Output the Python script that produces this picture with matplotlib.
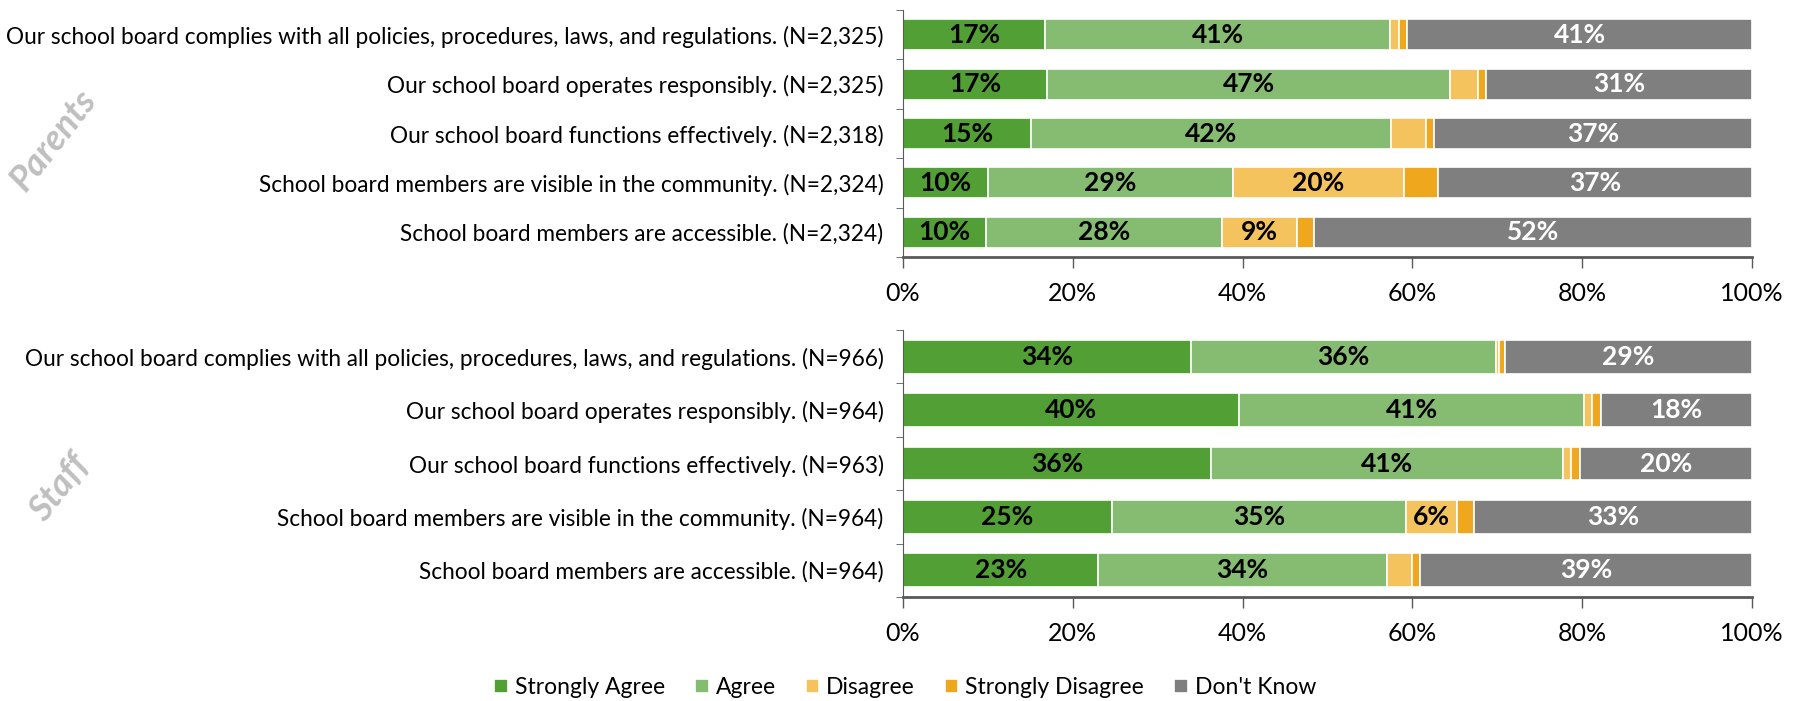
import matplotlib.pyplot as plt
import numpy as np

plt.rcParams['font.family'] = ['Lato', 'DejaVu Sans']

LEVELS = ['Strongly Agree', 'Agree', 'Disagree', 'Strongly Disagree', "Don't Know"]
COLORS = ['#52A035', '#86BC72', '#F4C35D', '#EFA81D', '#7F7F7F']

PARENT_ITEMS = [
    'Our school board complies with all policies, procedures, laws, and regulations. (N=2,325)',
    'Our school board operates responsibly. (N=2,325)',
    'Our school board functions effectively. (N=2,318)',
    'School board members are visible in the community. (N=2,324)',
    'School board members are accessible. (N=2,324)',
]
PARENT_SA = [16.7, 17.0, 15.1, 10.0, 9.8]
PARENT_AG = [40.7, 47.4, 42.4, 28.9, 27.8]
PARENT_DIS = [1.0, 3.3, 4.1, 20.1, 8.8]
PARENT_SD = [1.0, 1.0, 1.0, 4.0, 2.0]
PARENT_DK = [40.6, 31.3, 37.4, 37.0, 51.6]

STAFF_ITEMS = [
    'Our school board complies with all policies, procedures, laws, and regulations. (N=966)',
    'Our school board operates responsibly. (N=964)',
    'Our school board functions effectively. (N=963)',
    'School board members are visible in the community. (N=964)',
    'School board members are accessible. (N=964)',
]
STAFF_SA = [33.9, 39.6, 36.3, 24.6, 23.0]
STAFF_AG = [36.0, 40.6, 41.4, 34.7, 34.0]
STAFF_DIS = [0.3, 1.0, 1.0, 5.9, 3.0]
STAFF_SD = [0.7, 1.0, 1.0, 2.0, 0.9]
STAFF_DK = [29.1, 17.8, 20.3, 32.8, 39.1]

TXT = '#000000'
AXC = '#595959'


def draw_group(ax, items, series):
    y = np.arange(len(items))
    left = np.zeros(len(items))
    for vals, name, col in zip(series, LEVELS, COLORS):
        vals = np.array(vals, dtype=float)
        ax.barh(y, vals, left=left, height=0.63, color=col,
                edgecolor='white', linewidth=1.2, label=name)
        for yi, l, v in zip(y, left, vals):
            if v >= 5:
                ax.text(l + v / 2, yi, '%.0f%%' % v, ha='center', va='center',
                        fontsize=19, fontweight='bold',
                        color='white' if name == "Don't Know" else 'black')
        left += vals

    ax.set_xlim(0, 100)
    ax.set_ylim(len(items) - 0.5, -0.5)
    ax.set_yticks(y)
    ax.set_yticklabels(items, fontsize=16.3, color=TXT)
    ax.set_yticks(np.arange(len(items) + 1) - 0.5, minor=True)
    ax.tick_params(axis='y', which='major', length=0, pad=14)
    ax.tick_params(axis='y', which='minor', length=5, color=AXC)
    ax.set_xticks(np.arange(0, 101, 20))
    ax.set_xticklabels(['%d%%' % t for t in range(0, 101, 20)], fontsize=18, color=TXT)
    ax.tick_params(axis='x', length=8, width=1, color=AXC, pad=10)
    for s in ['top', 'right']:
        ax.spines[s].set_visible(False)
    ax.spines['left'].set_color(AXC)
    ax.spines['bottom'].set_color(AXC)
    ax.spines['bottom'].set_linewidth(2)


fig = plt.figure(figsize=(17.96, 7.01), dpi=100)
ax1 = fig.add_axes([0.5028, 0.6334, 0.4727, 0.3523])
ax2 = fig.add_axes([0.5028, 0.1484, 0.4727, 0.3808])

draw_group(ax1, PARENT_ITEMS, [PARENT_SA, PARENT_AG, PARENT_DIS, PARENT_SD, PARENT_DK])
draw_group(ax2, STAFF_ITEMS, [STAFF_SA, STAFF_AG, STAFF_DIS, STAFF_SD, STAFF_DK])

fig.text(0.030, 0.80, 'Parents', rotation=52, ha='center', va='center',
         fontsize=26, fontweight='bold', style='italic', color='#BFBFBF')
fig.text(0.033, 0.305, 'Staff', rotation=52, ha='center', va='center',
         fontsize=26, fontweight='bold', style='italic', color='#BFBFBF')

handles, labels = ax1.get_legend_handles_labels()
fig.legend(handles, labels, loc='center', bbox_to_anchor=(0.504, 0.019), ncol=5,
           frameon=False, fontsize=16.5, handlelength=0.6, handleheight=0.6,
           handletextpad=0.3, columnspacing=1.3)

fig.savefig('out.png', dpi=100)
